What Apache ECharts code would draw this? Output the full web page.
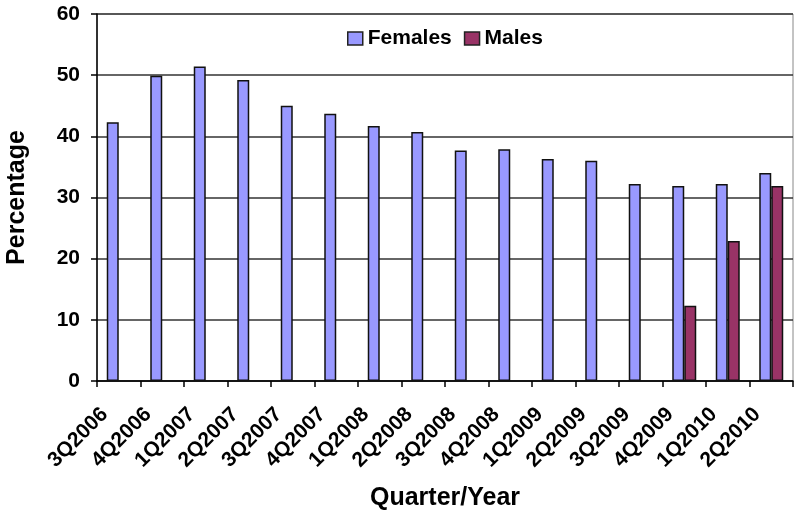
<!DOCTYPE html>
<html><head><meta charset="utf-8">
<script src="https://cdn.jsdelivr.net/npm/echarts@6/dist/echarts.min.js"></script>
<style>html,body{margin:0;padding:0;background:#fff}#c{width:800px;height:518px}</style>
</head><body><div id="c"></div>
<script>
const categories = ['3Q2006','4Q2006','1Q2007','2Q2007','3Q2007','4Q2007','1Q2008','2Q2008','3Q2008','4Q2008','1Q2009','2Q2009','3Q2009','4Q2009','1Q2010','2Q2010'];
const females = [42.3, 49.9, 51.4, 49.2, 45.0, 43.7, 41.7, 40.7, 37.7, 37.9, 36.3, 36.0, 32.2, 31.9, 32.2, 34.0];
const males = [null, null, null, null, null, null, null, null, null, null, null, null, null, 12.3, 22.9, 31.9];
const yTicks = [0, 10, 20, 30, 40, 50, 60];

const font = 'Liberation Sans, Arial, sans-serif';
const chart = echarts.init(document.getElementById('c'));
chart.setOption({
  animation: false,
  backgroundColor: '#fff',
  legend: {
    top: 23, left: 342,
    itemWidth: 15, itemHeight: 13, itemGap: 12,
    textStyle: { fontFamily: font, fontWeight: 'bold', fontSize: 21, color: '#000' },
    data: [
      { name: 'Females', icon: 'rect', itemStyle: { borderColor: '#222', borderWidth: 1.5 } },
      { name: 'Males', icon: 'rect', itemStyle: { borderColor: '#222', borderWidth: 1.5 } }
    ]
  },
  grid: { left: 97, top: 14, right: 7, bottom: 137, show: true, borderColor: '#888', borderWidth: 1, containLabel: false, outerBoundsMode: 'none' },
  xAxis: {
    type: 'category', data: categories,
    name: 'Quarter/Year', nameLocation: 'middle', nameGap: 105,
    nameTextStyle: { fontFamily: font, fontWeight: 'bold', fontSize: 25, color: '#000' },
    axisLine: { lineStyle: { color: '#000', width: 1.5 } },
    axisTick: { show: true, length: 6, lineStyle: { color: '#000', width: 1.5 } },
    axisLabel: { rotate: 45, fontFamily: font, fontWeight: 'bold', fontSize: 21, color: '#000', margin: 16, padding: [0, 20, 0, 0], interval: 0 }
  },
  yAxis: {
    type: 'value', min: yTicks[0], max: yTicks[yTicks.length - 1], interval: 10,
    name: 'Percentage', nameLocation: 'middle', nameGap: 67, nameRotate: 90,
    nameTextStyle: { fontFamily: font, fontWeight: 'bold', fontSize: 25, color: '#000' },
    axisLine: { show: true, lineStyle: { color: '#000', width: 1.5 } },
    axisTick: { show: true, length: 6, lineStyle: { color: '#000', width: 1.5 } },
    axisLabel: { fontFamily: font, fontWeight: 'bold', fontSize: 21, color: '#000', margin: 17 },
    splitLine: { show: true, lineStyle: { color: '#333', width: 1.5 } }
  },
  series: [
    { name: 'Females', type: 'bar', data: females, barWidth: 12, barGap: '0%',
      itemStyle: { color: '#9999FF', borderColor: '#111', borderWidth: 1.5 } },
    { name: 'Males', type: 'bar', data: males, barWidth: 12, barGap: '0%',
      itemStyle: { color: '#993366', borderColor: '#111', borderWidth: 1.5 } }
  ]
});
</script></body></html>
